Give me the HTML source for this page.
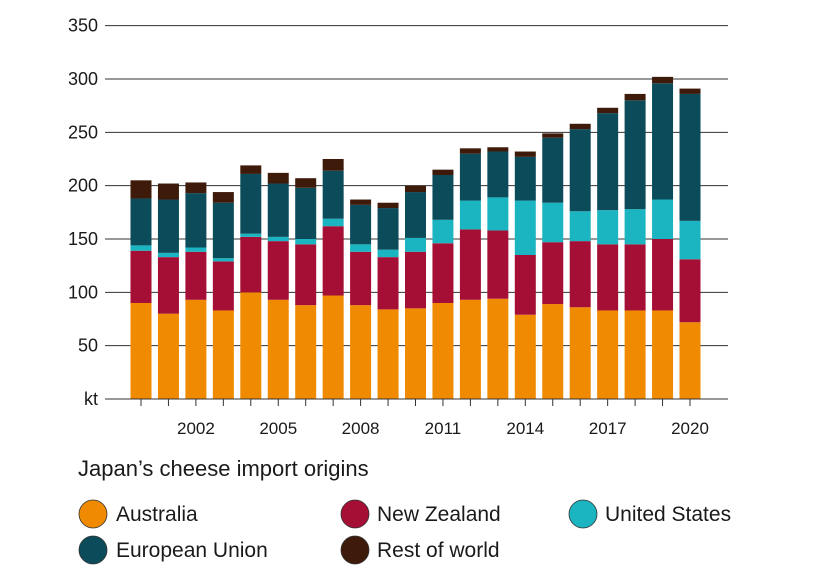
<!DOCTYPE html>
<html><head><meta charset="utf-8"><style>
body{margin:0;background:#fff;}
svg text{font-family:"Liberation Sans",sans-serif;fill:#1a1a1a;}
</style></head><body>
<svg id="c" width="816" height="573" xmlns="http://www.w3.org/2000/svg">
<g id="grid"></g><g id="bars"></g>
<text x="78" y="476" font-size="22">Japan’s cheese import origins</text>
<circle cx="93" cy="514" r="14" fill="#f08a00" stroke="#333" stroke-width="0.8"/><text x="116" y="521" font-size="21">Australia</text>
<circle cx="355" cy="514" r="14" fill="#a50e35" stroke="#333" stroke-width="0.8"/><text x="377" y="521" font-size="21">New Zealand</text>
<circle cx="583" cy="514" r="14" fill="#1ab5c0" stroke="#333" stroke-width="0.8"/><text x="605" y="521" font-size="21">United States</text>
<circle cx="93" cy="550" r="14" fill="#0b4b5a" stroke="#333" stroke-width="0.8"/><text x="116" y="557" font-size="21">European Union</text>
<circle cx="355" cy="550" r="14" fill="#3e1a0a" stroke="#333" stroke-width="0.8"/><text x="377" y="557" font-size="21">Rest of world</text>
</svg>
<script>
var ns="http://www.w3.org/2000/svg";
function el(p,t,a,txt){var e=document.createElementNS(ns,t);for(var k in a)e.setAttribute(k,a[k]);if(txt)e.textContent=txt;document.getElementById(p).appendChild(e);}
function y(v){return 399-v*1.0667;}
for(var v=50;v<=350;v+=50){el("grid","line",{x1:105,x2:728,y1:y(v),y2:y(v),stroke:"#333","stroke-width":1});el("grid","text",{x:98,y:y(v)+6,"text-anchor":"end","font-size":18},String(v));}
el("grid","text",{x:98,y:405,"text-anchor":"end","font-size":18},"kt");
var d=[[90,139,144,188,205],[80,133,137,187,202],[93,138,142,193,203],[83,129,132,184,194],[100,152,155,211,219],[93,148,152,202,212],[88,145,150,198,207],[97,162,169,214,225],[88,138,145,182,187],[84,133,140,179,184],[85,138,151,194,200],[90,146,168,210,215],[93,159,186,230,235],[94,158,189,232,236],[79,135,186,227,232],[89,147,184,245,249],[86,148,176,253,258],[83,145,177,268,273],[83,145,178,280,286],[83,150,187,296,302],[72,131,167,286,291]];
var col=["#f08a00","#a50e35","#1ab5c0","#0b4b5a","#3e1a0a"];
for(var i=0;i<21;i++){var cx=141+i*27.45;var prev=0;
for(var j=0;j<5;j++){el("bars","rect",{x:cx-10.5,y:y(d[i][j]),width:21,height:y(prev)-y(d[i][j]),fill:col[j]});prev=d[i][j];}
el("bars","line",{x1:cx,x2:cx,y1:399,y2:406,stroke:"#333","stroke-width":1});
if(i%3==2)el("bars","text",{x:cx,y:434,"text-anchor":"middle","font-size":17},String(2000+i));}
el("bars","line",{x1:105,x2:728,y1:399,y2:399,stroke:"#333","stroke-width":1});
</script>
</body></html>
